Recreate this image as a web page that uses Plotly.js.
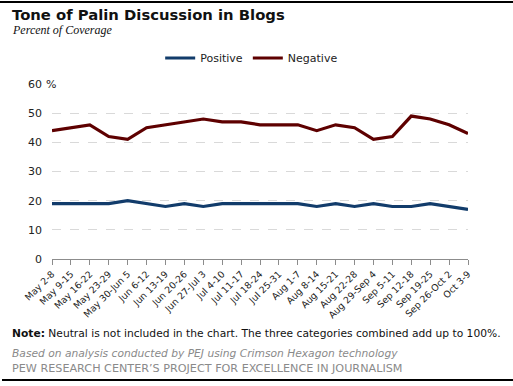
<!DOCTYPE html>
<html>
<head>
<meta charset="utf-8">
<script src="https://cdn.plot.ly/plotly-3.0.1.min.js"></script>
<style>
html,body{margin:0;padding:0;background:#fff;}
#chart{width:513px;height:386px;}
</style>
</head>
<body>
<div id="chart"></div>
<script>
var weeks = ["May 2-8","May 9-15","May 16-22","May 23-29","May 30-Jun 5","Jun 6-12","Jun 13-19","Jun 20-26","Jun 27-Jul 3","Jul 4-10","Jul 11-17","Jul 18-24","Jul 25-31","Aug 1-7","Aug 8-14","Aug 15-21","Aug 22-28","Aug 29-Sep 4","Sep 5-11","Sep 12-18","Sep 19-25","Sep 26-Oct 2","Oct 3-9"];
var positive = [19,19,19,19,20,19,18,19,18,19,19,19,19,19,18,19,18,19,18,18,19,18,17];
var negative = [44,45,46,42,41,45,46,47,48,47,47,46,46,46,44,46,45,41,42,49,48,46,43];
var yTickVals = [0,10,20,30,40,50,60];
var yTickText = ["0","10","20","30","40","50","60"];
var yUnit = "%";

var fontMain = "DejaVu Sans, Verdana, sans-serif";

var traces = [
  {x: weeks, y: positive, name: "Positive", type: "scatter", mode: "lines",
   line: {color: "#123c6b", width: 3.2}},
  {x: weeks, y: negative, name: "Negative", type: "scatter", mode: "lines",
   line: {color: "#5e0000", width: 3.2}}
];

var W = 416, H = 175;
var layout = {
  width: 513, height: 386,
  margin: {l: 52, r: 45, t: 84, b: 127, autoexpand: false},
  paper_bgcolor: "#fff", plot_bgcolor: "#fff",
  showlegend: true,
  legend: {orientation: "h", x: 0.48, xanchor: "center", y: 1 + 26/H, yanchor: "middle",
           xref: "paper", yref: "paper",
           font: {family: fontMain, size: 11, color: "#222"},
           itemwidth: 30, tracegroupgap: 0, bgcolor: "rgba(0,0,0,0)"},
  xaxis: {type: "category", range: [0, 22], showgrid: false, zeroline: false, automargin: false,
          showline: true, linecolor: "#8c8c8c", linewidth: 1,
          ticks: "outside", ticklen: 5, tickcolor: "#8c8c8c",
          tickangle: -45, tickfont: {family: fontMain, size: 9.3, color: "#222"},
          fixedrange: true},
  yaxis: {range: [0, 60], tickvals: yTickVals, ticktext: yTickText, automargin: false,
          showgrid: true, gridcolor: "#d9d9d9", griddash: "dash", gridwidth: 1,
          zeroline: false, showline: false, ticks: "",
          ticklabelstandoff: 9,
          tickfont: {family: fontMain, size: 11, color: "#222"}, fixedrange: true},
  shapes: [
    {type: "line", xref: "paper", yref: "paper", x0: -52/W, x1: 461/W, y0: 1 + 82/H, y1: 1 + 82/H,
     line: {color: "#000", width: 2}},
    {type: "line", xref: "paper", yref: "paper", x0: -50/W, x1: 461/W, y0: -121/H, y1: -121/H,
     line: {color: "#000", width: 2}}
  ],
  annotations: [
    {text: yUnit, xref: "paper", yref: "y", x: -7/W, y: 60, xanchor: "left", yanchor: "middle",
     showarrow: false, bgcolor: "#fff", borderpad: 0,
     font: {family: fontMain, size: 11, color: "#222"}},
    {text: "<b>Tone of Palin Discussion in Blogs</b>", xref: "paper", yref: "paper",
     x: -42/W, y: 1 + 70/H, xanchor: "left", yanchor: "middle", showarrow: false,
     font: {family: fontMain, size: 14.8, color: "#111"}},
    {text: "<i>Percent of Coverage</i>", xref: "paper", yref: "paper",
     x: -42/W, y: 1 + 54/H, xanchor: "left", yanchor: "middle", showarrow: false,
     font: {family: "Liberation Serif, serif", size: 12, color: "#111"}},
    {text: "<b>Note:</b> Neutral is not included in the chart. The three categories combined add up to 100%.",
     xref: "paper", yref: "paper", x: -42/W, y: -74/H, xanchor: "left", yanchor: "middle",
     showarrow: false, font: {family: fontMain, size: 10.7, color: "#111"}},
    {text: "<i>Based on analysis conducted by PEJ using Crimson Hexagon technology</i>",
     xref: "paper", yref: "paper", x: -42/W, y: -94/H, xanchor: "left", yanchor: "middle",
     showarrow: false, font: {family: fontMain, size: 10.7, color: "#8a8a8a"}},
    {text: "PEW RESEARCH CENTER\u2019S PROJECT FOR EXCELLENCE IN JOURNALISM",
     xref: "paper", yref: "paper", x: -42/W, y: -109/H, xanchor: "left", yanchor: "middle",
     showarrow: false, font: {family: fontMain, size: 11.2, color: "#8a8a8a"}}
  ]
};

Plotly.newPlot("chart", traces, layout, {displayModeBar: false, staticPlot: true});
</script>
</body>
</html>
